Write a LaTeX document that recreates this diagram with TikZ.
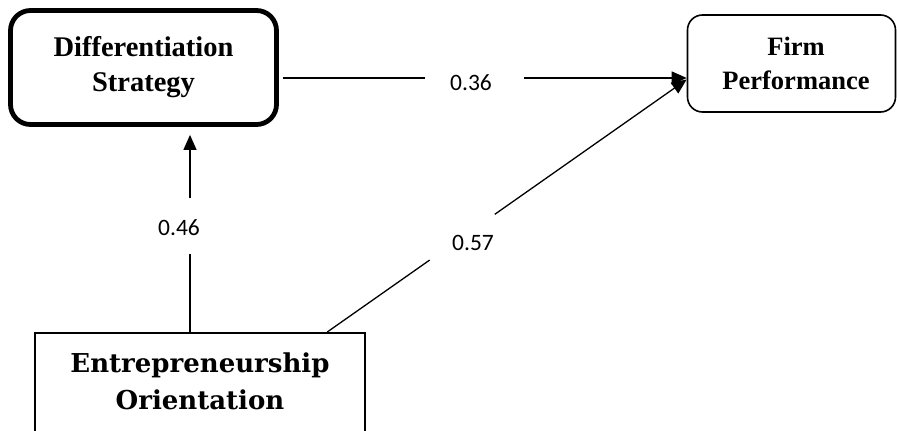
\documentclass[tikz,border=0pt]{standalone}
\usepackage{fontspec}
\usetikzlibrary{arrows.meta,calc}
\newfontfamily\lsb{Liberation Serif}
\newfontfamily\dvs{DejaVu Serif}
\newfontfamily\crl{Carlito}
\tikzset{
  conn/.style={line width=1.3pt, black},
  arr/.style={conn, -{Triangle[length=15pt,width=13pt]}},
  wlabel/.style={font=\crl\fontsize{23.5}{28}\selectfont, inner sep=0pt},
  dsbox/.style={draw, line width=4.8pt, rounded corners=20pt, minimum width=266pt, minimum height=114pt, align=center, inner sep=0pt, font=\lsb\bfseries\fontsize{28.5}{35}\selectfont},
  fpbox/.style={draw, line width=1.6pt, rounded corners=15pt, minimum width=208pt, minimum height=97pt, align=center, inner sep=0pt, font=\lsb\bfseries\fontsize{26.5}{34}\selectfont},
  eobox/.style={draw, line width=1.5pt, minimum width=330pt, minimum height=140pt, inner sep=0pt},
  eotext/.style={align=center, inner sep=0pt, font=\dvs\bfseries\fontsize{26}{37}\selectfont}
}
\begin{document}
\begin{tikzpicture}[x=1pt,y=-1pt]
\clip (0,0) rectangle (897,431);
\fill[white] (0,0) rectangle (897,431);
% boxes
\node[dsbox] (ds) at (143.5,67.5) {Differentiation\\Strategy};
\node[fpbox] (fp) at (791.5,63.5) {\hspace*{9pt}Firm\\\hspace*{9pt}Performance};
\node[eobox, anchor=north] (eo) at (200,332) {};
\node[eotext] (eot) at (200,381.5) {Entrepreneurship\\Orientation};
% horizontal connector
\coordinate (hs) at ([yshift=-10.5pt,xshift=4pt]ds.east);
\coordinate (he) at ([yshift=-14.5pt]fp.west);
\path (hs) -- (he) coordinate[pos=0.352] (h1) coordinate[pos=0.598] (h2);
\draw[conn] (hs) -- (h1);
\draw[arr] (h2) -- (he);
\node[wlabel] (l36) at (471,83) {0.36};
% vertical connector
\coordinate (vs) at ([xshift=-10pt]eo.north);
\coordinate (ve) at ([xshift=46.5pt,yshift=-8pt]ds.south);
\path (vs) -- (ve) coordinate[pos=0.398] (v1) coordinate[pos=0.679] (v2);
\draw[conn] (vs) -- (v1);
\draw[arr] (v2) -- (ve);
\node[wlabel] (l46) at (179,228) {0.46};
% diagonal connector
\coordinate (ds0) at ([xshift=293pt]eo.north west);
\coordinate (de) at ([yshift=-16pt]fp.west);
\path (ds0) -- (de) coordinate[pos=0.285] (d1) coordinate[pos=0.466] (d2);
\draw[conn] (ds0) -- (d1);
\draw[arr] (d2) -- (de);
\node[wlabel] (l57) at (473,243) {0.57};
\end{tikzpicture}
\end{document}
